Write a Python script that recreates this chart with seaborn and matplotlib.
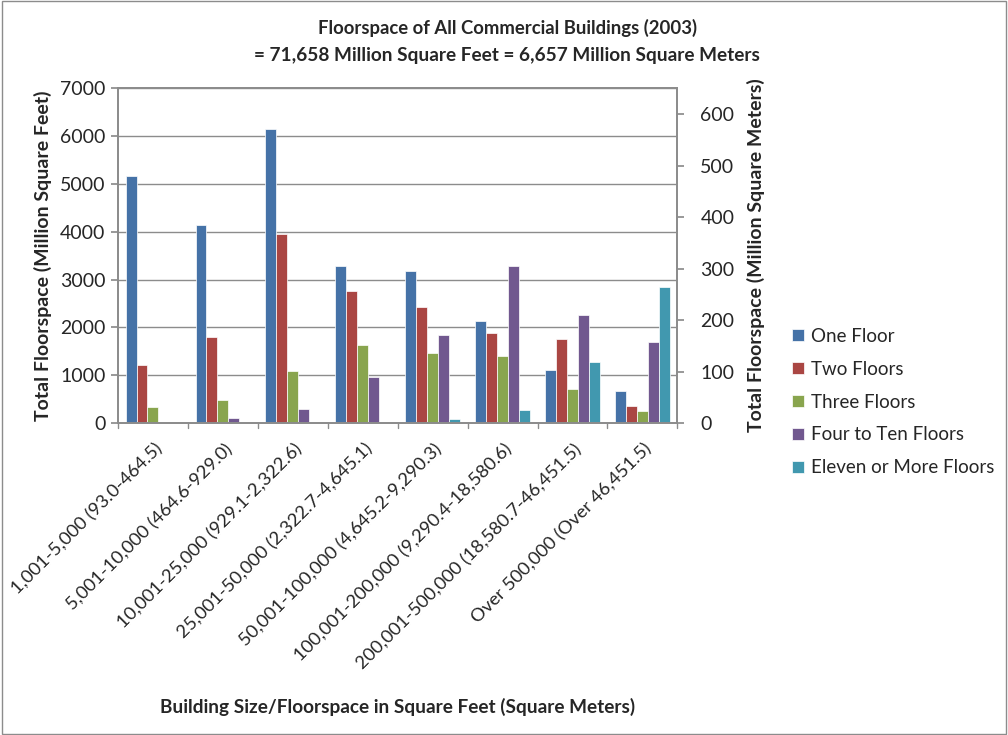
import matplotlib
matplotlib.use("Agg")
import matplotlib.pyplot as plt
import matplotlib.transforms as mtransforms
import seaborn as sns
import pandas as pd
from matplotlib.patches import Rectangle

categories = ["1,001-5,000 (93.0-464.5)", "5,001-10,000 (464.6-929.0)",
              "10,001-25,000 (929.1-2,322.6)", "25,001-50,000 (2,322.7-4,645.1)",
              "50,001-100,000 (4,645.2-9,290.3)", "100,001-200,000 (9,290.4-18,580.6)",
              "200,001-500,000 (18,580.7-46,451.5)", "Over 500,000 (Over 46,451.5)"]
series = ["One Floor", "Two Floors", "Three Floors", "Four to Ten Floors", "Eleven or More Floors"]
one_floor = [5170, 4140, 6140, 3280, 3170, 2130, 1110, 675]
two_floors = [1205, 1805, 3950, 2760, 2430, 1880, 1760, 350]
three_floors = [330, 490, 1085, 1625, 1460, 1395, 715, 260]
four_to_ten = [30, 105, 285, 955, 1830, 3280, 2250, 1690]
eleven_plus = [0, 0, 5, 0, 75, 280, 1275, 2840]
colors = ["#4572A7", "#AA4643", "#89A54E", "#71588F", "#4198AF"]

rows = []
for name, vals in zip(series, [one_floor, two_floors, three_floors, four_to_ten, eleven_plus]):
    for c, v in zip(categories, vals):
        rows.append({"cat": c, "series": name, "value": v})
df = pd.DataFrame(rows)

sns.set_theme(style="white")
plt.rcParams['font.family'] = ['Lato', 'DejaVu Sans']

fig = plt.figure(figsize=(10.08, 7.35), dpi=100)
ax = fig.add_axes([0.117, 0.4245, 0.555, 0.4555])
sns.barplot(data=df, x="cat", y="value", hue="series", palette=colors, width=0.78,
            saturation=1, edgecolor="white", linewidth=0.5, ax=ax)

ax.set_ylim(0, 7000)
ax.set_yticks(range(0, 7001, 1000))
ax.yaxis.grid(True, color="#8c8c8c", linewidth=1)
ax.set_axisbelow(True)
ax.set_xlim(-0.5, len(categories) - 0.5)
for s in ax.spines.values():
    s.set_color("#8c8c8c")
ax.tick_params(axis="y", labelsize=14, length=5, color="#8c8c8c", left=True, pad=4)
ax.set_xticks(range(len(categories)))
ax.set_xticklabels(categories, rotation=45, ha="right", va="center", rotation_mode="anchor",
                   fontsize=13.3)
ax.tick_params(axis="x", length=0, pad=17)
shift = mtransforms.ScaledTranslation(7 / 100, 0, fig.dpi_scale_trans)
for lab in ax.get_xticklabels():
    lab.set_transform(lab.get_transform() + shift)
for b in range(len(categories) + 1):
    ax.plot([b - 0.5, b - 0.5], [0, -0.015], transform=ax.get_xaxis_transform(),
            color="#8c8c8c", lw=1, clip_on=False)
ax.set_xlabel("Building Size/Floorspace in Square Feet (Square Meters)", fontsize=13.7,
              fontweight="bold")
ax.xaxis.set_label_coords(0.5, -0.82)
ax.set_ylabel("Total Floorspace (Million Square Feet)", fontsize=14, fontweight="bold", labelpad=6)

ax2 = ax.twinx()
ax2.set_ylim(0, 7000 / 10.764)
ax2.set_yticks(range(0, 601, 100))
ax2.tick_params(axis="y", labelsize=14, length=5, color="#8c8c8c", right=True, pad=11.5)
for s in ax2.spines.values():
    s.set_color("#8c8c8c")
ax2.set_ylabel("Total Floorspace (Million Square Meters)", fontsize=14, fontweight="bold", labelpad=9)

handles, labels = ax.get_legend_handles_labels()
ax.legend(handles, labels, loc="center left", bbox_to_anchor=(0.786, 0.453),
          bbox_transform=fig.transFigure, frameon=False, fontsize=13.5, borderpad=0,
          borderaxespad=0, handlelength=0.6, handleheight=0.6, handletextpad=0.4,
          labelspacing=0.85)

fig.text(0.503, 0.962, "Floorspace of All Commercial Buildings (2003)", ha="center", va="center",
         fontsize=13.3, fontweight="bold")
fig.text(0.503, 0.924, "= 71,658 Million Square Feet = 6,657 Million Square Meters", ha="center",
         va="center", fontsize=13.7, fontweight="bold")
fig.patches.append(Rectangle((0.002, 0.002), 0.996, 0.996, transform=fig.transFigure,
                             fill=False, edgecolor="#8c8c8c", linewidth=1))

fig.savefig("out.png", dpi=100)
